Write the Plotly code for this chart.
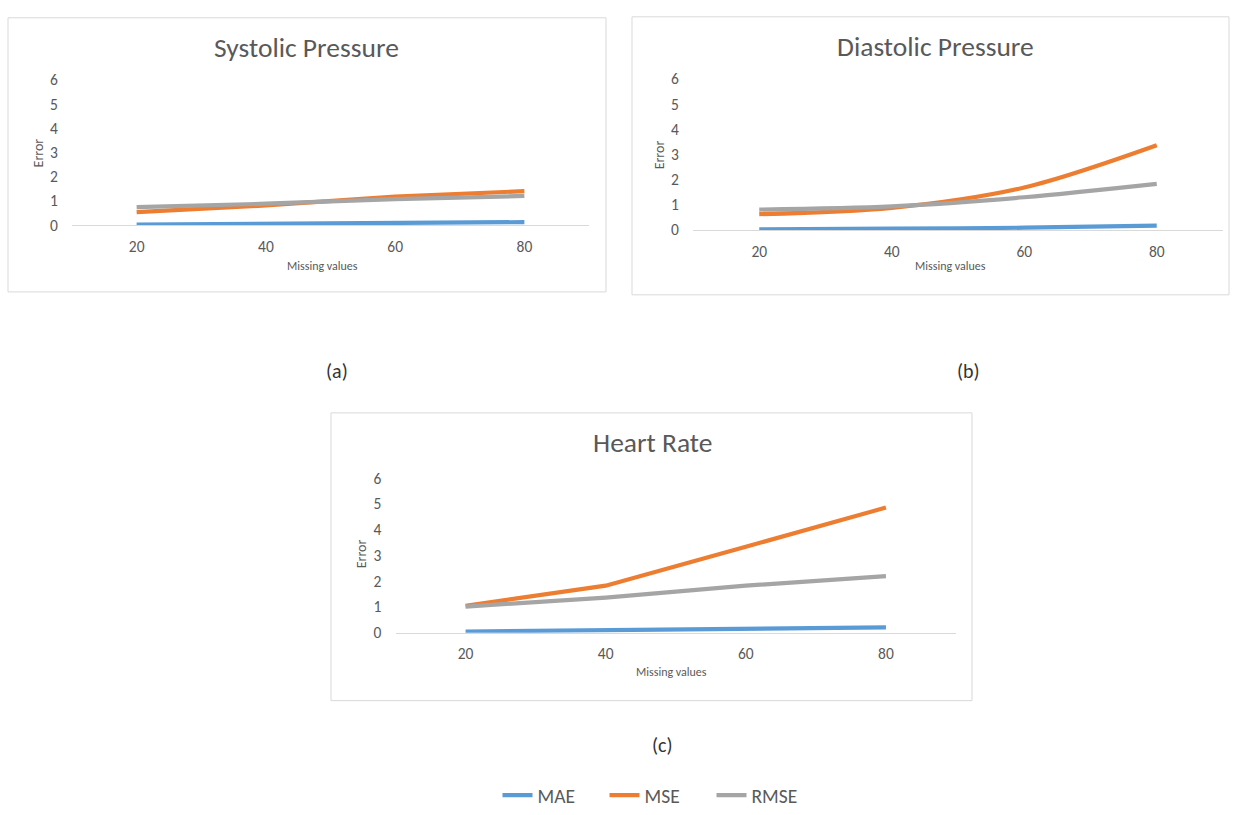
import plotly.graph_objects as go

W, H = 1238, 815

# ---------------- data ----------------
missing = ["20", "40", "60", "80"]
series_names = ["MAE", "MSE", "RMSE"]

systolic_mae = [0.03, 0.06, 0.09, 0.13]
systolic_mse = [0.54, 0.82, 1.18, 1.41]
systolic_rmse = [0.75, 0.89, 1.08, 1.21]

diastolic_mae = [0.02, 0.05, 0.09, 0.17]
diastolic_mse = [0.63, 0.88, 1.69, 3.37]
diastolic_rmse = [0.81, 0.94, 1.30, 1.83]

heart_mae = [0.05, 0.09, 0.14, 0.21]
heart_mse = [1.05, 1.83, 3.34, 4.86]
heart_rmse = [1.02, 1.37, 1.83, 2.20]

panel_titles = ["Systolic Pressure", "Diastolic Pressure", "Heart Rate"]
panel_labels = ["(a)", "(b)", "(c)"]
y_ticks = [0, 1, 2, 3, 4, 5, 6]

colors = {"MAE": "#5B9BD5", "MSE": "#ED7D31", "RMSE": "#A5A5A5"}
FONT = "Carlito, Lato, sans-serif"
TXT = "#595959"

# ---------------- layout helpers (pixel -> paper) ----------------
def px(x):
    return x / W

def py(y):
    return 1 - y / H

panels = [
    dict(data=[systolic_mae, systolic_mse, systolic_rmse], shape="linear",
         x0=72, x1=589, y0=220.7, y6=71.7,
         box=(8, 8, 606, 289), title=(306, 38), xt=(322, 262), yt=(38, 147),
         lab=(337, 370)),
    dict(data=[diastolic_mae, diastolic_mse, diastolic_rmse], shape="spline",
         x0=693, x1=1223, y0=225.5, y6=70.7,
         box=(632, 7, 1229, 292), title=(935, 37), xt=(950, 262), yt=(659, 148),
         lab=(968, 370)),
    dict(data=[heart_mae, heart_mse, heart_rmse], shape="linear",
         x0=395.5, x1=956, y0=638.5, y6=480,
         box=(331, 413, 972, 708), title=(652, 443), xt=(671.5, 679), yt=(361, 558),
         lab=(662, 754)),
]

fig = go.Figure()
shapes = []
annotations = []

for i, p in enumerate(panels):
    n = "" if i == 0 else str(i + 1)
    xa = "x" + n
    ya = "y" + n
    for name, vals in zip(series_names, p["data"]):
        fig.add_trace(go.Scatter(
            x=missing, y=vals, mode="lines", name=name,
            line=dict(color=colors[name], width=4.2, shape=p["shape"], smoothing=0.9),
            xaxis=xa, yaxis=ya, showlegend=(i == 0), legendgroup=name,
            hoverinfo="skip",
        ))
    fig.layout["xaxis" + n] = dict(
        domain=[px(p["x0"]), px(p["x1"])], anchor=ya,
        type="category", range=[-0.5, 3.5],
        showline=True, linecolor="#D9D9D9", linewidth=1,
        showgrid=False, zeroline=False,
        ticks="outside", ticklen=7, tickcolor="rgba(0,0,0,0)",
        tickfont=dict(family=FONT, size=15.5, color=TXT),
        fixedrange=True,
    )
    fig.layout["yaxis" + n] = dict(
        domain=[py(p["y0"]), py(p["y6"])], anchor=xa,
        range=[0, 6], tickvals=y_ticks,
        showline=False, showgrid=False, zeroline=False,
        ticks="outside", ticklen=10, tickcolor="rgba(0,0,0,0)",
        tickfont=dict(family=FONT, size=15.5, color=TXT),
        fixedrange=True,
    )
    bx0, by0, bx1, by1 = p["box"]
    shapes.append(dict(type="rect", xref="paper", yref="paper",
                       x0=px(bx0), x1=px(bx1), y0=py(by1), y1=py(by0),
                       line=dict(color="#D9D9D9", width=1), layer="below"))
    annotations.append(dict(text=panel_titles[i], x=px(p["title"][0]), y=py(p["title"][1]),
                            xref="paper", yref="paper", showarrow=False,
                            xanchor="center", yanchor="middle",
                            font=dict(family=FONT, size=27.5, color=TXT)))
    annotations.append(dict(text="Missing values", x=px(p["xt"][0]), y=py(p["xt"][1]),
                            xref="paper", yref="paper", showarrow=False,
                            xanchor="center", yanchor="middle",
                            font=dict(family=FONT, size=12, color=TXT)))
    annotations.append(dict(text="Error", x=px(p["yt"][0]), y=py(p["yt"][1]),
                            xref="paper", yref="paper", showarrow=False, textangle=-90,
                            xanchor="center", yanchor="middle",
                            font=dict(family=FONT, size=14, color=TXT)))
    annotations.append(dict(text=panel_labels[i], x=px(p["lab"][0]), y=py(p["lab"][1]),
                            xref="paper", yref="paper", showarrow=False,
                            xanchor="center", yanchor="middle",
                            font=dict(family=FONT, size=20, color="#333333")))

fig.update_layout(
    width=W, height=H,
    margin=dict(l=0, r=0, t=0, b=0),
    paper_bgcolor="white", plot_bgcolor="white",
    shapes=shapes, annotations=annotations,
    showlegend=True,
    legend=dict(orientation="h", x=px(658), xanchor="center",
                y=py(805.5), yanchor="middle",
                font=dict(family=FONT, size=19.5, color=TXT),
                itemwidth=30, entrywidth=62, entrywidthmode="pixels",
                bgcolor="rgba(0,0,0,0)"),
    hovermode=False,
)

fig.write_html("out.html", config={"displayModeBar": False})
